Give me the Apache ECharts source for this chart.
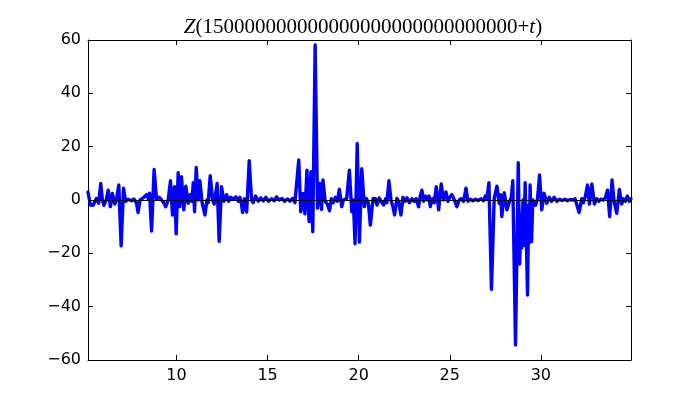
<!DOCTYPE html>
<html><head><meta charset="utf-8">
<script src="https://cdn.jsdelivr.net/npm/echarts@6/dist/echarts.min.js"></script>
<style>html,body{margin:0;padding:0;background:#fff}#c{width:700px;height:400px}</style>
</head><body><div id="c"></div>
<script>
const titleBase = "150000000000000000000000000000";
const xTicks = [10, 15, 20, 25, 30];
const yTicks = [-60, -40, -20, 0, 20, 40, 60];
const xMin = 5.14, xMax = 34.95, yMin = -60, yMax = 60;

const tVals = [5.14,5.27,5.42,5.60,5.73,5.84,5.93,6.01,6.14,6.25,6.37,6.48,6.61,6.70,6.83,6.96,7.09,7.20,7.34,7.53,7.66,7.80,7.89,8.00,8.17,8.35,8.44,8.52,8.63,8.77,8.90,9.05,9.18,9.30,9.41,9.54,9.67,9.78,9.89,9.98,10.09,10.18,10.27,10.40,10.51,10.64,10.75,10.84,10.92,10.99,11.08,11.19,11.28,11.41,11.56,11.67,11.74,11.85,11.98,12.07,12.14,12.23,12.34,12.47,12.60,12.75,12.86,12.97,13.11,13.26,13.39,13.48,13.55,13.63,13.72,13.85,13.99,14.12,14.21,14.34,14.49,14.62,14.76,14.91,15.05,15.22,15.37,15.49,15.64,15.79,15.93,16.08,16.23,16.37,16.50,16.59,16.71,16.82,16.93,17.05,17.16,17.28,17.38,17.48,17.61,17.74,17.86,17.96,18.04,18.16,18.28,18.40,18.50,18.61,18.72,18.83,18.94,19.07,19.16,19.25,19.34,19.49,19.62,19.71,19.80,19.92,20.04,20.17,20.31,20.42,20.53,20.64,20.79,20.91,21.01,21.12,21.22,21.37,21.48,21.55,21.66,21.77,21.88,21.97,22.10,22.19,22.32,22.43,22.54,22.65,22.78,22.93,23.05,23.16,23.29,23.38,23.47,23.56,23.67,23.77,23.86,23.93,24.04,24.15,24.26,24.39,24.53,24.66,24.79,24.90,25.00,25.12,25.25,25.39,25.52,25.63,25.76,25.89,26.00,26.12,26.27,26.42,26.56,26.71,26.86,26.95,27.04,27.15,27.29,27.44,27.59,27.71,27.79,27.86,27.99,28.14,28.28,28.38,28.46,28.61,28.76,28.84,28.90,28.95,29.02,29.06,29.14,29.27,29.33,29.37,29.41,29.49,29.56,29.71,29.82,29.93,30.05,30.18,30.33,30.46,30.59,30.73,30.88,31.02,31.17,31.32,31.46,31.61,31.76,31.88,31.97,32.10,32.25,32.34,32.45,32.56,32.67,32.80,32.94,33.07,33.18,33.29,33.44,33.55,33.66,33.78,33.91,34.02,34.17,34.31,34.44,34.53,34.64,34.75,34.86,34.95];
const zVals = [3,-1.9,-2,0.6,-1.2,6.2,0,-2,0,3.7,-2.5,2.5,-1.5,0,5.6,-17.2,4.4,-0.5,0.3,-0.3,0.4,-1,-4.7,0,0.8,2,0.5,2.5,-11.6,11.5,0.5,1,0,-1,-2.5,0,7.2,-5.6,5,-12.7,10.2,-2.5,8.7,-3.7,5.2,-1.2,2,-0.5,6.5,-4.4,12.2,0,7.2,-1.2,-5.6,0,-1,9.1,0,-1.5,2,6.2,-15.5,5,-0.5,2,-0.5,1,0.3,1.2,-0.5,1,-1,-4.7,0.5,-4.5,14.7,0,-1,1.5,-0.5,0.8,-0.3,1,-0.5,0.5,-0.3,1.2,0,0.6,-0.5,0.4,-0.4,0.6,-1,-1.5,15,-4.4,2.5,-5.2,11.2,-8.1,10.6,-11.9,58.1,-3,6.2,-3.5,7.5,-0.5,-1.5,-4,0.5,-1,1,-0.5,4,-2.5,0,-0.5,0.5,11.2,-4.4,0,-16.4,21.2,-15.8,11.7,-2.5,0.6,-1,-9.4,0.6,0.5,-1.9,0.8,-0.5,-1.9,0.5,-1,7.2,0,-2.5,-5.6,0.6,-0.5,-5.6,1,-0.5,0.8,-1,0.5,-0.5,0.5,-2.5,1.5,3.7,-0.5,1.5,0,1.5,-2.5,0.5,-1,5,-3.7,6,0,3,-0.5,1,2,0,-2.5,0,0.5,-0.5,4.4,-0.5,0.3,-0.3,0.3,-0.2,0.5,-0.3,1.5,0.5,6.5,-33.5,0.5,5.2,-1.2,2,-6.2,2.7,-3.7,-0.5,1,7.2,-54.4,14,-24,-5,-18,0,-17,6.5,-35.6,-2,-16,5.6,-15.6,0,-2,0.5,9.4,-3.7,2.5,-1.2,1,-0.5,1,-0.5,0.3,-0.2,0.3,-0.3,0.2,0,0.5,1,-4.7,0.5,-1,1.5,5.6,-1.5,6,-1.5,0.5,-0.5,0.3,0,1,3.7,-6.2,7.5,-0.5,-5,4,-1.5,0.5,-0.5,1.5,-0.5,0.5];

const data = tVals.map((t, i) => [t, zVals[i]]);
const tickFont = { fontFamily: 'DejaVu Sans', fontSize: 16, color: '#000' };
const minus = v => String(v).replace('-', '\u2212');

const chart = echarts.init(document.getElementById('c'), null, { renderer: 'canvas' });
chart.setOption({
  animation: false,
  backgroundColor: '#fff',
  title: {
    text: '{i|Z}{n|(' + titleBase + '+}{i|t}{n|)}',
    left: 358, top: 12, textAlign: 'center',
    textStyle: {
      fontWeight: 'normal',
      rich: {
        i: { fontFamily: 'Liberation Serif', fontStyle: 'italic', fontWeight: 'normal', fontSize: 21, color: '#000' },
        n: { fontFamily: 'Liberation Serif', fontWeight: 'normal', fontSize: 21, color: '#000' }
      }
    }
  },
  grid: { left: 88, right: 69, top: 40, bottom: 40, show: false },
  xAxis: [
    { type: 'value', min: xMin, max: xMax, position: 'bottom',
      axisLine: { onZero: false, lineStyle: { color: '#000', width: 1 } },
      axisTick: { inside: true, length: 5, customValues: xTicks, lineStyle: { color: '#000' } },
      axisLabel: Object.assign({ customValues: xTicks, margin: 8 }, tickFont),
      splitLine: { show: false } },
    { type: 'value', min: xMin, max: xMax, position: 'top',
      axisLine: { onZero: false, lineStyle: { color: '#000', width: 1 } },
      axisTick: { inside: true, length: 5, customValues: xTicks, lineStyle: { color: '#000' } },
      axisLabel: { show: false }, splitLine: { show: false } }
  ],
  yAxis: [
    { type: 'value', min: yMin, max: yMax, interval: 20, position: 'left',
      axisLine: { onZero: false, lineStyle: { color: '#000', width: 1 } },
      axisTick: { inside: true, length: 5, lineStyle: { color: '#000' } },
      axisLabel: Object.assign({ margin: 7, formatter: minus }, tickFont),
      splitLine: { show: false } },
    { type: 'value', min: yMin, max: yMax, interval: 20, position: 'right',
      axisLine: { onZero: false, lineStyle: { color: '#000', width: 1 } },
      axisTick: { inside: true, length: 5, lineStyle: { color: '#000' } },
      axisLabel: { show: false }, splitLine: { show: false } }
  ],
  series: [
    { type: 'line', data: [], z: 1, silent: true,
      markLine: { symbol: 'none', silent: true, label: { show: false },
        lineStyle: { color: '#000', width: 1, type: 'solid' },
        data: [{ yAxis: 0 }] } },
    { type: 'line', data: data, z: 2, showSymbol: false, symbol: 'none',
      lineStyle: { color: '#0000ff', width: 3.4, join: 'round', cap: 'round' } }
  ]
});
</script></body></html>
